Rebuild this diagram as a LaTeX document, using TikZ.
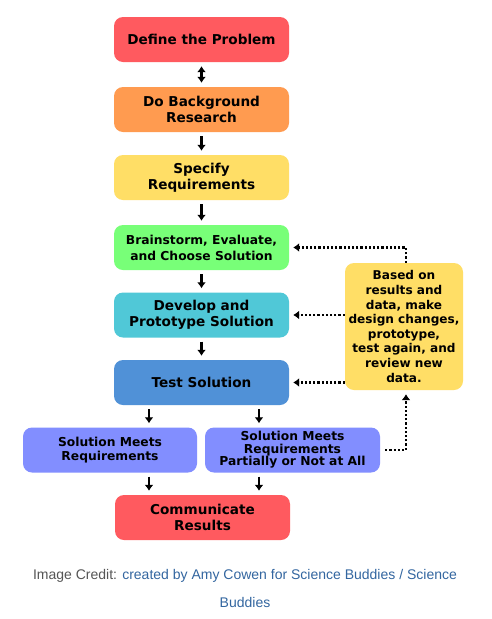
\documentclass[tikz,border=0pt]{standalone}
\usepackage{fontspec}
\setmainfont{Liberation Sans}
\newfontfamily\boxfont{DejaVu Sans}
\usetikzlibrary{arrows.meta}

\definecolor{redBox}{RGB}{255,90,95}
\definecolor{orangeBox}{RGB}{255,155,80}
\definecolor{yellowBox}{RGB}{255,222,102}
\definecolor{greenBox}{RGB}{120,255,120}
\definecolor{cyanBox}{RGB}{80,200,215}
\definecolor{blueBox}{RGB}{80,145,215}
\definecolor{violetBox}{RGB}{130,142,255}
\definecolor{creditGray}{RGB}{85,85,85}
\definecolor{creditBlue}{RGB}{51,102,160}

\tikzset{
  stepbox/.style={rounded corners=9pt, minimum width=175pt, minimum height=45pt,
    inner sep=0pt, align=center, text=black,
    font=\boxfont\bfseries\fontsize{13.6}{16.5}\selectfont},
  flow/.style={line width=2.2pt, -{Latex[length=6pt,width=9pt]},
    shorten >=4pt, shorten <=4pt},
  loopback/.style={line width=2.2pt, dash pattern=on 2.2pt off 2pt,
    -{Latex[length=6pt,width=9pt]}, shorten >=4pt}
}

\begin{document}
\begin{tikzpicture}[x=1pt,y=-1pt]
\path[use as bounding box,fill=white] (0,0) rectangle (491,619);

% main column
\node[stepbox,fill=redBox] (define) at (201.5,39.5) {Define the Problem};
\node[stepbox,fill=orangeBox] (research) at (201.5,109.5) {Do Background\\Research};
\node[stepbox,fill=yellowBox] (specify) at (201.5,177.5) {Specify\\Requirements};
\node[stepbox,fill=greenBox,font=\boxfont\bfseries\fontsize{12.3}{16}\selectfont] (brainstorm) at (201.5,247.5) {Brainstorm, Evaluate,\\and Choose Solution};
\node[stepbox,fill=cyanBox] (develop) at (201.5,315) {Develop and\\Prototype Solution};
\node[stepbox,fill=blueBox] (test) at (201.5,382.5) {Test Solution};

% outcomes
\node[stepbox,fill=violetBox,minimum width=174pt,font=\boxfont\bfseries\fontsize{12.3}{14.5}\selectfont] (meets) at (110,450) {Solution Meets\\Requirements};
\node[stepbox,fill=violetBox,font=\boxfont\bfseries\fontsize{12.3}{12.5}\selectfont] (partial) at (292.5,450) {Solution Meets\\Requirements\\Partially or Not at All};
\node[stepbox,fill=redBox] (communicate) at (202.5,517.5) {Communicate\\Results};

% redesign note
\node[stepbox,fill=yellowBox,minimum width=118pt,minimum height=127pt,
  font=\boxfont\bfseries\fontsize{12.1}{14.6}\selectfont] (redesign) at (404,326.5)
  {Based on\\results and\\data, make\\design changes,\\prototype,\\test again, and\\review new\\data.};

% arrows down the column
\draw[flow,{Latex[length=6pt,width=9pt]}-{Latex[length=6pt,width=9pt]}] (define) -- (research);
\draw[flow] (research) -- (specify);
\draw[flow] (specify) -- (brainstorm);
\draw[flow] (brainstorm) -- (develop);
\draw[flow] (develop) -- (test);
\draw[flow] ([xshift=-52.5pt]test.south) -- ([xshift=-52.5pt]test.south |- meets.north);
\draw[flow] ([xshift=57.5pt]test.south) -- ([xshift=57.5pt]test.south |- partial.north);
\draw[flow] ([xshift=-52.5pt]test.south |- meets.south) -- ([xshift=-52.5pt]test.south |- communicate.north);
\draw[flow] ([xshift=57.5pt]test.south |- partial.south) -- ([xshift=57.5pt]test.south |- communicate.north);

% dotted loop back
\draw[loopback] ([xshift=2pt]redesign.north) |- (brainstorm.east);
\draw[loopback] (develop.east -| redesign.west) -- (develop.east);
\draw[loopback] (test.east -| redesign.west) -- (test.east);
\draw[loopback,shorten <=5pt] (partial.east) -| ([xshift=2pt]redesign.south);

% credit line
\node[align=center,font=\fontsize{14}{28}\selectfont] (credit) at (245,588)
  {\textcolor{creditGray}{Image Credit:} \textcolor{creditBlue}{created by Amy Cowen for Science Buddies / Science}\\
   \textcolor{creditBlue}{Buddies}};
\end{tikzpicture}
\end{document}
